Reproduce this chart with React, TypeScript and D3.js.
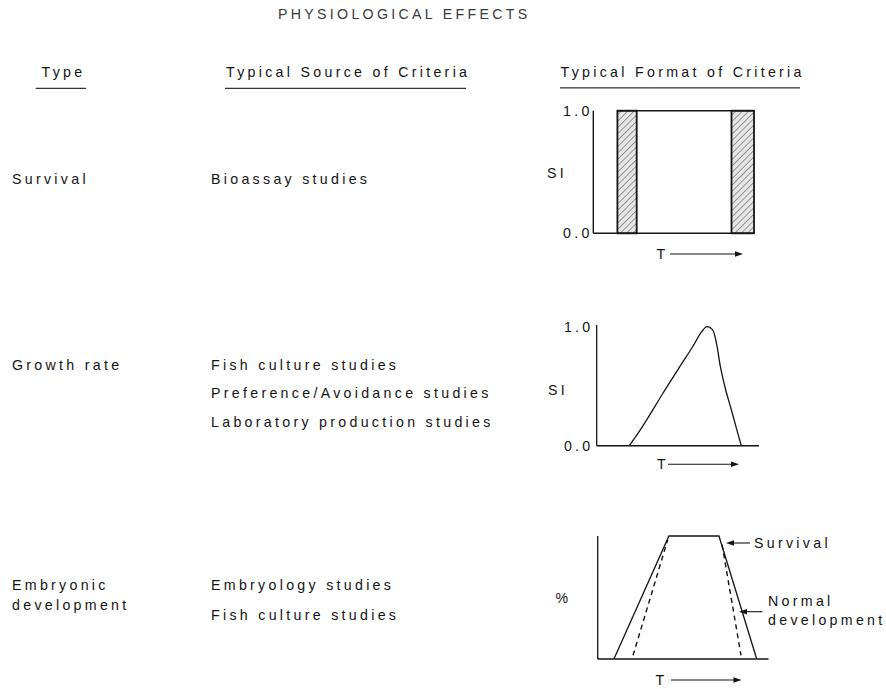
import React from "react";
import * as d3 from "d3";

// ---- Text content ----
const title = "PHYSIOLOGICAL EFFECTS";
const headers = ["Type", "Typical Source of Criteria", "Typical Format of Criteria"];
const typeLabels = [["Survival"], ["Growth rate"], ["Embryonic", "development"]];
const sourceLabels = [
  ["Bioassay studies"],
  ["Fish culture studies", "Preference/Avoidance studies", "Laboratory production studies"],
  ["Embryology studies", "Fish culture studies"],
];
const siTicks = ["0.0", "1.0"];

// ---- Panel 1: survival (lethal bands on T axis, 0..100) ----
const lethalBands: [number, number][] = [
  [15, 27],
  [86, 100],
];
const survivalTopSpan = [15, 100];

// ---- Panel 2: growth rate curve ----
const growthT = [20.1, 25.5, 30.7, 41.0, 51.2, 59.4, 64.5, 68.0, 71.3, 73.8, 76.2, 79.5, 83.0, 86.1, 89.1];
const growthSI = [0, 0.105, 0.215, 0.445, 0.664, 0.838, 0.955, 1.0, 0.975, 0.86, 0.664, 0.468, 0.3, 0.146, 0];

// ---- Panel 3: embryonic development ----
const survivalT = [9.5, 41.7, 71.0, 93.1];
const survivalPct = [0, 100, 100, 0];
const normalLeftT = [20.7, 41.0];
const normalLeftPct = [3, 97];
const normalRightT = [72.8, 83.9];
const normalRightPct = [93, 3];

const FONT = "'Liberation Sans', Arial, Helvetica, sans-serif";
const LS = 3.3;
const INK = "#141414";

function Arrow({ x1, x2, y }: { x1: number; x2: number; y: number }) {
  const dir = x2 > x1 ? 1 : -1;
  return (
    <g>
      <line x1={x1} x2={x2 - dir * 6} y1={y} y2={y} stroke={INK} strokeWidth={1.1} />
      <path d={`M${x2},${y} L${x2 - dir * 8},${y - 2.8} L${x2 - dir * 8},${y + 2.8} Z`} fill={INK} />
    </g>
  );
}

function T({ x, y, children, anchor = "start", fill = INK }: any) {
  return (
    <text
      x={x}
      y={y}
      textAnchor={anchor}
      dominantBaseline="central"
      fontFamily={FONT}
      fontSize={14.2}
      letterSpacing={LS}
      fill={fill}
    >
      {children}
    </text>
  );
}

export default function App() {
  // Panel 1 scales
  const x1 = d3.scaleLinear().domain([0, 100]).range([593.3, 754]);
  const y1 = d3.scaleLinear().domain([0, 1]).range([233.3, 110.7]);
  // Panel 2 scales
  const x2 = d3.scaleLinear().domain([0, 100]).range([596.7, 759]);
  const y2 = d3.scaleLinear().domain([0, 1]).range([445.7, 326.7]);
  // Panel 3 scales
  const x3 = d3.scaleLinear().domain([0, 100]).range([597.7, 768.5]);
  const y3 = d3.scaleLinear().domain([0, 100]).range([659, 536]);

  const growthLine = d3
    .line<number>()
    .x((_, i) => x2(growthT[i]))
    .y((d) => y2(d))
    .curve(d3.curveCatmullRom.alpha(0.5));

  const line3 = (ts: number[], ps: number[]) =>
    d3
      .line<number>()
      .x((_, i) => x3(ts[i]))
      .y((d) => y3(d))(ps) || "";

  const srcY = [[179], [365, 393, 421.5], [585, 615]];
  const typeY = [[179], [365], [585, 605]];

  return (
    <svg
      width={886}
      height={689}
      style={{ position: "absolute", left: 0, top: 0, background: "#fff" }}
    >
      <defs>
        <pattern id="hatch" patternUnits="userSpaceOnUse" width={4.5} height={4.5} patternTransform="rotate(45)">
          <rect width={4.5} height={4.5} fill="#e6e6e6" />
          <line x1={0} y1={0} x2={0} y2={4.5} stroke="#444" strokeWidth={1} />
        </pattern>
      </defs>
      <rect width={886} height={689} fill="#fff" />

      {/* Title */}
      <T x={278} y={13.5} fill="#3a3a3a">{title}</T>

      {/* Headers */}
      <T x={41.5} y={71.7}>{headers[0]}</T>
      <T x={226} y={71.7}>{headers[1]}</T>
      <T x={560.5} y={71.7}>{headers[2]}</T>
      <line x1={35.7} x2={86} y1={88.3} y2={88.3} stroke="#333" strokeWidth={1.3} />
      <line x1={225} x2={466} y1={88.3} y2={88.3} stroke="#333" strokeWidth={1.3} />
      <line x1={560} x2={800} y1={87.8} y2={87.8} stroke="#333" strokeWidth={1.3} />

      {/* Row labels */}
      {typeLabels.map((lines, r) =>
        lines.map((s, j) => (
          <T key={`t${r}${j}`} x={12} y={typeY[r][j]}>{s}</T>
        ))
      )}
      {sourceLabels.map((lines, r) =>
        lines.map((s, j) => (
          <T key={`s${r}${j}`} x={211} y={srcY[r][j]}>{s}</T>
        ))
      )}

      {/* Panel 1 */}
      <g>
        {lethalBands.map(([a, b], i) => (
          <rect
            key={i}
            x={x1(a)}
            y={y1(1)}
            width={x1(b) - x1(a)}
            height={y1(0) - y1(1)}
            fill="url(#hatch)"
            stroke={INK}
            strokeWidth={1.8}
          />
        ))}
        <line x1={x1(survivalTopSpan[0])} x2={x1(survivalTopSpan[1])} y1={y1(1)} y2={y1(1)} stroke={INK} strokeWidth={1.6} />
        <line x1={x1(0)} x2={x1(0)} y1={y1(1)} y2={y1(0)} stroke={INK} strokeWidth={1.4} />
        <line x1={x1(0)} x2={x1(100)} y1={y1(0)} y2={y1(0)} stroke={INK} strokeWidth={1.6} />
        {siTicks.map((t, i) => (
          <T key={t} x={x1(0) - 4 + LS} y={y1(i)} anchor="end">{t}</T>
        ))}
        <T x={547} y={173.3}>SI</T>
        <T x={656.5} y={254}>T</T>
        <Arrow x1={670} x2={743} y={254} />
      </g>

      {/* Panel 2 */}
      <g>
        <line x1={x2(0)} x2={x2(0)} y1={325} y2={y2(0)} stroke={INK} strokeWidth={1.3} />
        <line x1={x2(0)} x2={x2(100)} y1={y2(0)} y2={y2(0)} stroke={INK} strokeWidth={1.5} />
        <path d={growthLine(growthSI) || ""} fill="none" stroke={INK} strokeWidth={1.3} />
        {siTicks.map((t, i) => (
          <T key={t} x={x2(0) - 6.5 + LS} y={y2(i)} anchor="end">{t}</T>
        ))}
        <T x={548} y={390}>SI</T>
        <T x={657} y={464.3}>T</T>
        <Arrow x1={668} x2={739} y={464.3} />
      </g>

      {/* Panel 3 */}
      <g>
        <line x1={x3(0)} x2={x3(0)} y1={y3(100)} y2={y3(0)} stroke={INK} strokeWidth={1.3} />
        <line x1={x3(0)} x2={x3(100)} y1={y3(0)} y2={y3(0)} stroke={INK} strokeWidth={1.5} />
        <path d={line3(survivalT, survivalPct)} fill="none" stroke={INK} strokeWidth={1.3} />
        <path d={line3(normalLeftT, normalLeftPct)} fill="none" stroke={INK} strokeWidth={1.4} strokeDasharray="5,4" />
        <path d={line3(normalRightT, normalRightPct)} fill="none" stroke={INK} strokeWidth={1.4} strokeDasharray="5,4" />
        <T x={555.5} y={598}>%</T>
        <T x={655.5} y={680}>T</T>
        <Arrow x1={671} x2={741.5} y={680} />
        <Arrow x1={750} x2={726} y={543} />
        <T x={754} y={542.7}>Survival</T>
        <Arrow x1={762.5} x2={739} y={611.7} />
        <T x={768} y={601}>Normal</T>
        <T x={768} y={620}>development</T>
      </g>
    </svg>
  );
}
